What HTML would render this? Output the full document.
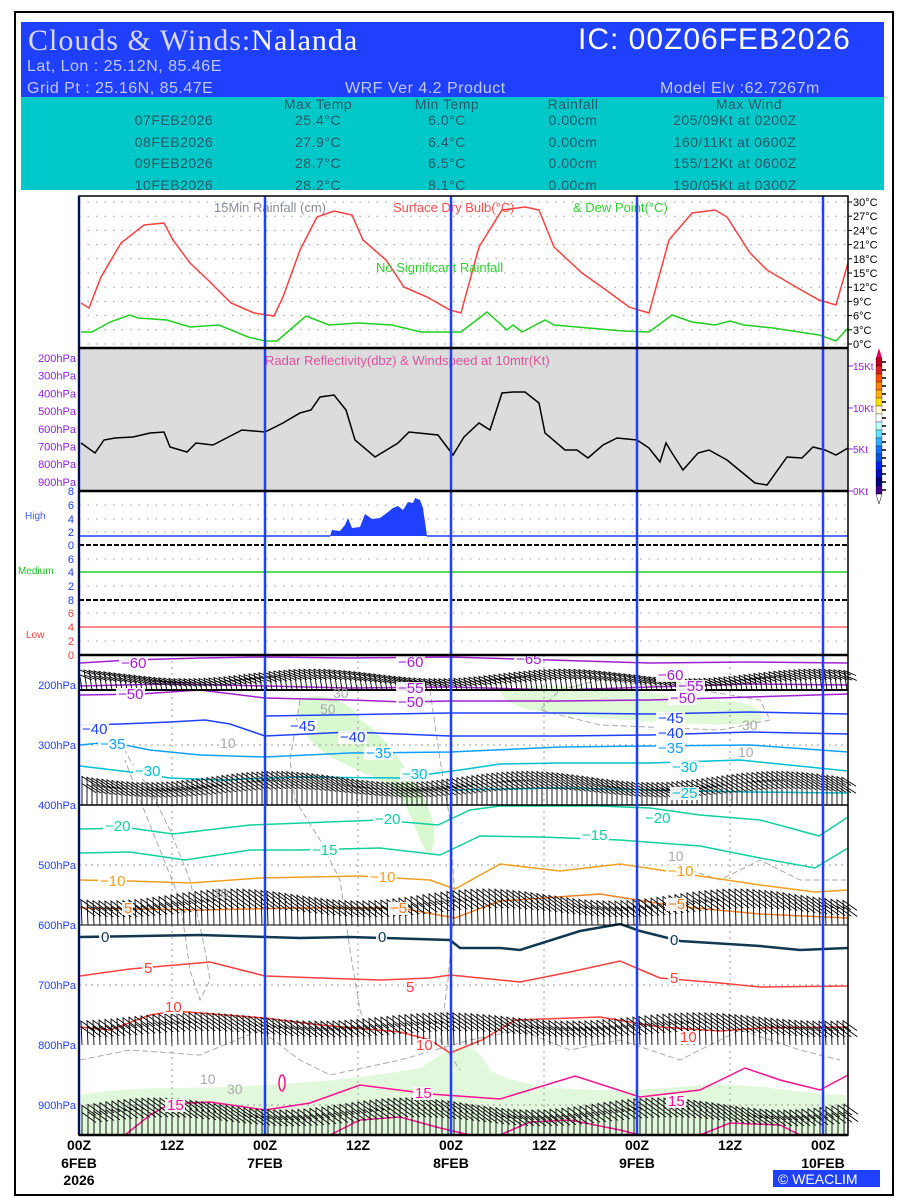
<!DOCTYPE html>
<html><head><meta charset="utf-8"><style>
html,body{margin:0;padding:0;background:#fff;overflow:hidden;}
svg{display:block;font-family:"Liberation Sans",sans-serif;}
</style></head><body>
<svg id="s" width="900" height="1200" viewBox="0 0 900 1200" xmlns="http://www.w3.org/2000/svg">
<rect x="15" y="12" width="878" height="1183" fill="#fff" stroke="#000" stroke-width="2"/>
<rect x="21" y="22" width="863" height="76" fill="#2040ff"/>
<rect x="21" y="97" width="863" height="93" fill="#00c8c8"/>
<text x="28" y="50" font-family="Liberation Serif,serif" font-size="30" fill="#d8d8ff" letter-spacing="1">Clouds &amp; Winds:<tspan fill="#fff">Nalanda</tspan></text>
<text x="578" y="49" font-size="30" fill="#fff" letter-spacing="1">IC: 00Z06FEB2026</text>
<g font-size="16" fill="#c0c8ff" letter-spacing="0.5">
<text x="27" y="71">Lat, Lon : 25.12N, 85.46E</text>
<text x="27" y="93">Grid Pt  : 25.16N, 85.47E</text>
<text x="345" y="93">WRF Ver 4.2 Product</text>
<text x="660" y="93">Model Elv :62.7267m</text>
</g>
<g font-size="14" fill="#2a5868" letter-spacing="0.5" text-anchor="middle">
<text x="318" y="109">Max Temp</text><text x="447" y="109">Min Temp</text><text x="573" y="109">Rainfall</text><text x="749" y="109">Max Wind</text>
<text x="174" y="125">07FEB2026</text><text x="318" y="125">25.4°C</text><text x="447" y="125">6.0°C</text><text x="573" y="125">0.00cm</text><text x="735" y="125">205/09Kt at 0200Z</text>
<text x="174" y="147">08FEB2026</text><text x="318" y="147">27.9°C</text><text x="447" y="147">6.4°C</text><text x="573" y="147">0.00cm</text><text x="735" y="147">160/11Kt at 0600Z</text>
<text x="174" y="168">09FEB2026</text><text x="318" y="168">28.7°C</text><text x="447" y="168">6.5°C</text><text x="573" y="168">0.00cm</text><text x="735" y="168">155/12Kt at 0600Z</text>
<text x="174" y="190">10FEB2026</text><text x="318" y="190">28.2°C</text><text x="447" y="190">8.1°C</text><text x="573" y="190">0.00cm</text><text x="735" y="190">190/05Kt at 0300Z</text>
</g>
<rect x="21" y="190" width="863" height="4" fill="#fff"/>
<g id="g"></g>
</svg>
<script>
var g=document.getElementById('g'),h='';
function P(pts,c,w,ex){h+='<polyline fill="none" stroke="'+c+'" stroke-width="'+(w||1.5)+'" '+(ex||'')+' points="'+pts+'"/>';}
function L(x1,y1,x2,y2,c,w,ex){h+='<line x1="'+x1+'" y1="'+y1+'" x2="'+x2+'" y2="'+y2+'" stroke="'+c+'" stroke-width="'+(w||1)+'" '+(ex||'')+'/>';}
function T(x,y,t,c,s,ex){h+='<text x="'+x+'" y="'+y+'" fill="'+c+'" font-size="'+s+'" '+(ex||'')+'>'+t+'</text>';}
var X0=79,X1=848;
h+='<rect x="79" y="348" width="769" height="143" fill="#dcdcdc"/>';
h+='<path d="M300,700 C320,690 350,700 360,720 C380,730 400,760 420,790 C430,810 440,830 430,855 C420,850 410,800 390,785 C360,770 330,760 315,745 C300,730 295,712 300,700Z" fill="#d8f8d0"/>';
h+='<path d="M500,690 C560,680 640,690 700,700 C740,700 770,705 760,722 C720,728 660,722 600,718 C540,712 505,710 500,690Z" fill="#e0fad8"/>';
h+='<path d="M80,1095 C130,1085 200,1090 260,1085 C330,1082 380,1075 420,1068 C450,1050 470,1030 490,1070 C520,1090 600,1095 700,1085 C760,1082 800,1095 846,1095 L846,1135 L80,1135Z" fill="#e2f8dc"/>';
var gd='stroke-dasharray="6,3"';
P('120,740 130,760 150,790 170,830 190,880 205,950 210,980 200,1000 190,970 180,900 160,850 140,800 125,760','#aaa',1,gd);
P('300,700 290,760 295,800 320,840 340,880 350,950 360,1010 370,1040','#aaa',1,gd);
P('430,690 440,760 450,820 455,900 448,980 440,1040 460,1070','#aaa',1,gd);
P('560,690 600,680 700,690 760,700 770,720 720,730 600,725 540,710 560,690','#aaa',1,gd);
P('80,1060 130,1050 200,1055 260,1030 300,1060 330,1075 400,1060 470,1040 520,1030 570,1050 620,1040 680,1060 740,1030 800,1050 840,1060','#aaa',1,gd);
P('690,870 720,880 760,860 800,880 846,880','#aaa',1,gd);
var dt='stroke-dasharray="1.5,7"';
for(var i=0;i<=10;i++){var y=344-i*14.2;L(X0,y,X1,y,'#999',1,dt);}
[505,519,532,559,572,586,613,627,641].forEach(function(y){L(X0,y,X1,y,'#999',1,dt);});
[745,865,985,1105].forEach(function(y){L(X0,y,X1,y,'#999',1,'stroke-dasharray="2,4"');});
[172,358,544,730].forEach(function(x){L(x,655,x,1135,'#999',1,'stroke-dasharray="2,4"');});
P('81,303 89,308 101,277 121,243 144,225 164,223 173,240 190,263 208,280 231,303 254,313 274,316 283,297 300,250 317,217 334,211 352,215 363,240 386,260 404,287 427,297 450,310 461,313 479,247 502,210 525,207 539,210 554,247 582,273 606,290 629,307 649,313 669,240 692,213 715,210 727,217 750,253 767,270 796,287 819,300 836,305 848,263','#ff4040',1.5);
P('81,332 92,332 110,322 130,315 138,318 167,320 190,327 219,325 248,337 265,341 277,341 306,316 329,325 358,323 392,325 421,332 450,332 461,332 487,312 507,330 513,325 522,332 545,320 554,325 577,327 623,331 649,332 672,315 692,322 715,325 730,321 744,325 773,328 819,335 836,341 848,328','#20d020',1.5);
T(214,212,'15Min Rainfall (cm)','#8a8aa0',13);
T(393,212,'Surface Dry Bulb(°C)','#ff5050',13);
T(573,212,'&amp; Dew Point(°C)','#30d030',13);
T(376,272,'No Significant Rainfall','#30d030',13);
P('81,443 95,453 104,440 115,438 133,437 150,433 164,432 170,447 187,452 196,443 213,445 242,430 265,432 283,423 288,420 300,413 311,410 320,397 334,395 346,410 355,440 375,457 398,443 409,432 438,435 453,455 464,437 479,423 490,430 502,393 513,392 525,392 539,403 545,433 565,450 577,450 588,458 603,445 617,438 637,440 649,448 660,462 666,443 672,453 683,470 698,453 709,450 727,460 755,483 767,485 787,457 802,458 813,447 825,450 836,455 848,448','#000',1.5);
T(265,365,'Radar Reflectivity(dbz) &amp; Windspeed at 10mtr(Kt)','#e050a0',13);
L(X0,536,330,536,'#2040ff',1.5);L(427,536,X1,536,'#2040ff',1.5);
h+='<polygon fill="#2040ff" points="330,536 332,530 340,531 345,525 348,518 352,528 360,527 365,514 372,519 380,518 388,512 393,508 398,506 403,510 408,502 413,503 415,498 420,500 423,508 427,536"/>';
L(X0,545,X1,545,'#000',2,'stroke-dasharray="5,2"');
L(X0,572,X1,572,'#20d020',1.5);
L(X0,600,X1,600,'#000',2,'stroke-dasharray="5,2"');
L(X0,627,X1,627,'#ff4040',1.2);
[[491,'8'],[505,'6'],[519,'4'],[532,'2'],[545,'0'],[559,'6'],[572,'4'],[586,'2'],[600,'8']].forEach(function(a){T(74,a[0]+4,a[1],'#2040ff',11,'text-anchor="end"');});
[[613,'6'],[627,'4'],[641,'2'],[655,'0']].forEach(function(a){T(74,a[0]+4,a[1],'#ff4040',11,'text-anchor="end"');});
T(25,519,'High','#4060ff',10);T(18,574,'Medium','#20c020',10);T(26,638,'Low','#ff4040',10);
for(var i=0;i<=10;i++){var y=344-i*14.2;L(848,y,852,y,'#000',1);T(853,y+4,(i*3)+'°C','#000',11);}
for(var i=0;i<8;i++){var y=358+i*17.7;T(76,y+4,(200+i*100)+'hPa','#9020e0',11,'text-anchor="end"');}
[[366,'15Kt'],[408,'10Kt'],[449,'5Kt'],[491,'0Kt']].forEach(function(a){L(848,a[0],853,a[0],'#9020e0',1);T(853,a[0]+4,a[1],'#9020e0',10);});
var cb=['#c00020','#e02020','#ff5000','#ff8000','#ffb000','#ffe000','#fff8d0','#ffffff','#c0ffff','#60e0ff','#30b0ff','#1070ff','#1050e0','#0020ff','#0010c0','#000080','#400090'];
h+='<polygon points="876,358 879,348 882,358" fill="#e00060"/>';
cb.forEach(function(c,i){h+='<rect x="876" y="'+(358+i*8)+'" width="6" height="8" fill="'+c+'" stroke="#000" stroke-width="0.3"/>';L(882,362+i*8,886,362+i*8,'#000',1.5);});
h+='<polygon points="876,494 879,504 882,494" fill="#fff" stroke="#000" stroke-width="0.5"/>';
function C(pts,c,w){P(pts,c,w||1.5);}
C('80,663 130,660 200,658 265,657 350,658 450,657 550,660 650,663 750,662 848,663','#a020d0',1.5);
C('80,686 170,684 265,686 350,688 450,687 560,690 650,687 750,684 848,685','#a020d0',1.5);
C('80,695 140,694 200,690 265,698 350,700 404,702 450,701 560,701 650,700 750,697 848,694','#a020d0',1.5);
C('265,716 330,715 450,713 560,713 650,714 750,712 848,714','#2040ff',1.5);
C('80,725 120,724 170,722 205,720 230,724 265,736 350,732 450,736 560,736 650,735 750,732 848,734','#2040ff',1.5);
C('80,745 110,742 150,750 200,755 265,757 350,753 450,752 560,747 650,746 750,745 848,752','#10a0ff',1.5);
C('80,766 130,772 170,778 220,780 300,777 400,778 460,770 500,764 560,763 650,763 740,760 848,771','#00c0d0',1.5);
C('450,790 560,788 650,790 750,792 848,793','#00c0d0',1.5);
C('80,829 130,828 173,834 250,825 380,820 438,825 470,810 500,806 600,806 650,808 700,815 760,820 790,828 819,836 848,817','#10d0a0',1.5);
C('80,853 130,852 185,860 250,850 300,850 380,848 440,855 480,836 540,837 620,840 700,846 760,858 815,868 848,848','#10d0a0',1.5);
C('80,880 130,881 190,883 260,878 360,876 430,880 455,889 500,864 560,871 620,864 680,873 760,885 815,892 848,890','#f0a020',1.5);
C('80,908 200,910 300,908 400,908 455,918 500,901 600,894 675,906 760,914 848,918','#f08020',1.5);
C('80,937 200,935 300,938 350,937 450,940 460,948 500,948 520,950 580,931 620,924 640,931 680,941 760,946 800,950 848,948','#103850',2.5);
C('80,976 130,969 210,962 265,976 320,978 380,980 430,978 450,975 520,982 570,972 620,961 660,978 720,983 760,987 848,986','#ff4040',1.5);
C('80,1027 110,1030 150,1015 175,1011 265,1018 320,1025 400,1032 430,1040 450,1053 482,1040 515,1020 600,1017 660,1027 720,1031 760,1028 848,1027','#ff4040',1.5);
C('125,1135 150,1115 170,1104 210,1102 265,1110 310,1103 360,1085 430,1094 500,1099 575,1076 640,1097 700,1090 745,1068 780,1080 820,1090 848,1075','#ff1090',1.5);
C('330,1135 360,1120 400,1117 440,1128 470,1135','#ff1090',1.5);
C('500,1135 530,1122 570,1120 620,1130 640,1135','#ff1090',1.5);
C('700,1135 730,1123 780,1125 800,1135','#ff1090',1.5);
h+='<ellipse cx="282" cy="1083" rx="3" ry="8" fill="none" stroke="#ff1090" stroke-width="1.5"/>';
// wind barbs
function B(y,x0,x1,st,ax,ay,fx,fy,amp,ph){var p='';for(var x=x0;x<=x1-ax-2;x+=st){var a=ay*(1+amp*Math.sin(x/40+ph));var tx=x+ax,ty=y-a;p+='M'+x.toFixed(1)+','+y+'L'+tx.toFixed(1)+','+ty.toFixed(1)+'l'+fx+','+fy+'M'+(x+ax*0.75).toFixed(1)+','+(y-a*0.75).toFixed(1)+'l'+fx+','+fy;}h+='<path d="'+p+'" stroke="#000" stroke-width="0.9" fill="none"/>';}
B(690,82,846,5,-3,16,12,5,0.3,0);
L(80,690,848,690,'#000',2);
B(805,82,846,5,0,28,14,9,0.2,1);
L(80,805,848,805,'#000',1.5);
B(925,82,846,6,-1,30,14,10,0.2,2);
L(80,925,848,925,'#000',1);
B(1045,82,846,6,-1,28,14,10,0.15,3);
B(1134,82,846,6,0,30,14,10,0.2,4);
function CL(x,y,t,c){h+='<rect x="'+(x-2)+'" y="'+(y-10)+'" width="'+(t.length*9+2)+'" height="13" fill="#fff" opacity="0.9"/>';T(x,y+1,t,c,15);}
CL(121,667,'−60','#a020d0');CL(398,666,'−60','#a020d0');CL(516,663,'−65','#a020d0');CL(658,679,'−60','#a020d0');
CL(398,692,'−55','#a020d0');CL(678,690,'−55','#a020d0');CL(118,698,'−50','#a020d0');CL(398,706,'−50','#a020d0');CL(670,702,'−50','#a020d0');
CL(290,730,'−45','#2040ff');CL(658,722,'−45','#2040ff');CL(82,733,'−40','#2040ff');CL(340,741,'−40','#2040ff');CL(658,737,'−40','#2040ff');
CL(100,748,'−35','#10a0ff');CL(366,757,'−35','#10a0ff');CL(658,752,'−35','#10a0ff');
CL(135,775,'−30','#00c0d0');CL(402,778,'−30','#00c0d0');CL(672,771,'−30','#00c0d0');CL(672,797,'−25','#00c0d0');
CL(105,830,'−20','#10d0a0');CL(375,823,'−20','#10d0a0');CL(582,839,'−15','#10d0a0');CL(312,854,'−15','#10d0a0');CL(645,822,'−20','#10d0a0');
CL(100,885,'−10','#f0a020');CL(370,881,'−10','#f0a020');CL(668,875,'−10','#f0a020');
CL(390,912,'−5','#f08020');CL(668,908,'−5','#f08020');CL(124,912,'5','#f08020');
CL(101,941,'0','#103850');CL(378,941,'0','#103850');CL(670,944,'0','#103850');
CL(144,972,'5','#ff4040');CL(406,991,'5','#ff4040');CL(670,982,'5','#ff4040');
CL(165,1011,'10','#ff4040');CL(416,1049,'10','#ff4040');CL(680,1041,'10','#ff4040');
CL(167,1109,'15','#ff1090');CL(415,1097,'15','#ff1090');CL(668,1105,'15','#ff1090');
T(200,1084,'10','#aaa',14);T(227,1094,'30','#aaa',14);T(333,698,'30','#aaa',14);T(320,714,'50','#aaa',14);T(220,748,'10','#aaa',14);T(742,730,'30','#aaa',14);T(738,757,'10','#aaa',14);T(668,861,'10','#aaa',14);T(213,898,'10','#aaa',14);
[79,265,451,637,823].forEach(function(x){L(x,196,x,1135,'#2040ff',2.5);});
h+='<rect x="79" y="196" width="769" height="939" fill="none" stroke="#000" stroke-width="1.5"/>';
L(79,348,848,348,'#000',2.5);L(79,491,848,491,'#000',2.5);L(79,655,848,655,'#000',2.5);L(79,1135,848,1135,'#000',2.5);
for(var i=0;i<8;i++){var y=685+i*60;T(76,y+4,(200+i*100)+'hPa','#2040ff',11,'text-anchor="end"');}
var xs=[79,172,265,358,451,544,637,730,823];
var nf='font-family="Liberation Sans Narrow,Liberation Sans,sans-serif" font-weight="bold" text-anchor="middle"';
xs.forEach(function(x,i){T(x,1150,i%2?'12Z':'00Z','#000',14,nf);});
['6FEB','7FEB','8FEB','9FEB','10FEB'].forEach(function(t,i){T(79+i*186,1168,t,'#000',14,nf);});
T(79,1185,'2026','#000',14,nf);
h+='<rect x="773" y="1170" width="107" height="17" fill="#2040ff"/>';
T(778,1184,'© WEACLIM','#fff',14);
g.innerHTML=h;
</script>
</body></html>
